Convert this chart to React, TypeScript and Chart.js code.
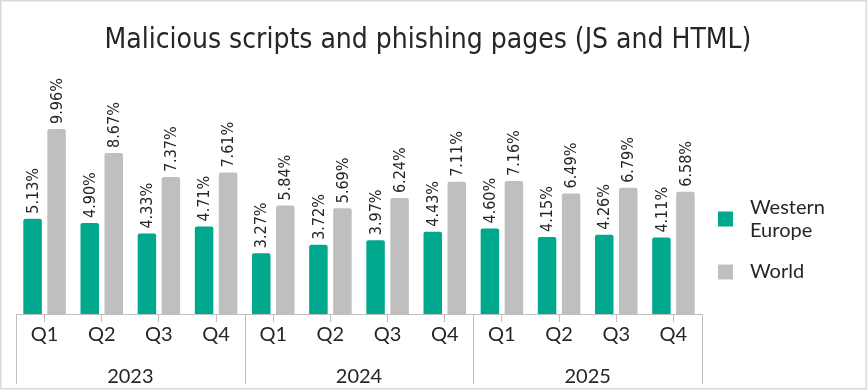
import React, { useEffect, useRef } from "react";
import { Chart, registerables } from "chart.js";

Chart.register(...registerables);

const quarters = ["Q1", "Q2", "Q3", "Q4", "Q1", "Q2", "Q3", "Q4", "Q1", "Q2", "Q3", "Q4"];
const years = ["2023", "2024", "2025"];
const westernEurope = [5.13, 4.9, 4.33, 4.71, 3.27, 3.72, 3.97, 4.43, 4.6, 4.15, 4.26, 4.11];
const world = [9.96, 8.67, 7.37, 7.61, 5.84, 5.69, 6.24, 7.11, 7.16, 6.49, 6.79, 6.58];
const seriesNames = [["Western", "Europe"], ["World"]];
const colors = ["#00A88E", "#BFBFBF"];
const titleText = "Malicious scripts and phishing pages (JS and HTML)";

const NARROW = "'Liberation Sans Narrow', 'DejaVu Sans Condensed', 'Noto Sans', sans-serif";
const GEO = "Lato, 'Noto Sans', sans-serif";
const TEXT = "#262626";
const AXIS = "#BFBFBF";

const decorPlugin = {
  id: "decor",
  beforeDraw(chart: any) {
    const { ctx, width, height } = chart;
    ctx.save();
    ctx.fillStyle = "#ffffff";
    ctx.fillRect(0, 0, width, height);
    ctx.strokeStyle = "#D9D9D9";
    ctx.lineWidth = 1.5;
    ctx.strokeRect(0.75, 0.75, width - 2.5, height - 2);
    ctx.fillStyle = TEXT;
    ctx.font = `28px ${NARROW}`;
    ctx.textAlign = "center";
    ctx.textBaseline = "alphabetic";
    ctx.fillText(titleText, 428, 48);
    ctx.restore();
  },
  afterDatasetsDraw(chart: any) {
    const { ctx } = chart;
    ctx.save();
    ctx.fillStyle = TEXT;
    ctx.font = `16px ${NARROW}`;
    ctx.textAlign = "left";
    ctx.textBaseline = "middle";
    chart.data.datasets.forEach((ds: any, di: number) => {
      const meta = chart.getDatasetMeta(di);
      meta.data.forEach((bar: any, i: number) => {
        const v = ds.data[i] as number;
        ctx.save();
        ctx.translate(bar.x, bar.y - 5);
        ctx.rotate(-Math.PI / 2);
        ctx.fillText(v.toFixed(2) + "%", 0, 1);
        ctx.restore();
      });
    });
    ctx.restore();
  },
  afterDraw(chart: any) {
    const { ctx, chartArea } = chart;
    const xs = chart.scales.x;
    const bottom = chartArea.bottom;
    ctx.save();
    const seps = [chartArea.left];
    for (let g = 1; g < years.length; g++) {
      const a = xs.getPixelForValue(g * 4 - 1);
      const b = xs.getPixelForValue(g * 4);
      seps.push((a + b) / 2);
    }
    seps.push(chartArea.right);
    ctx.strokeStyle = AXIS;
    ctx.lineWidth = 1;
    seps.forEach((x) => {
      const px = Math.round(x) + 0.5;
      ctx.beginPath();
      ctx.moveTo(px, bottom);
      ctx.lineTo(px, bottom + 70);
      ctx.stroke();
    });
    ctx.fillStyle = TEXT;
    ctx.font = `20px ${GEO}`;
    ctx.textAlign = "center";
    ctx.textBaseline = "middle";
    years.forEach((y, g) => {
      ctx.fillText(y, (seps[g] + seps[g + 1]) / 2, bottom + 63);
    });
    const lx = chartArea.right + 16;
    ctx.textAlign = "left";
    ctx.font = `20px ${GEO}`;
    const rows = [
      { y: 219, lines: seriesNames[0] },
      { y: 272, lines: seriesNames[1] },
    ];
    rows.forEach((r, i) => {
      ctx.fillStyle = colors[i];
      ctx.fillRect(lx, r.y - 7.5, 15, 15);
      ctx.fillStyle = TEXT;
      const n = r.lines.length;
      r.lines.forEach((t, k) => {
        ctx.fillText(t, lx + 32, r.y + (k - (n - 1) / 2) * 23);
      });
    });
    ctx.restore();
  },
};

export default function App() {
  const ref = useRef<HTMLCanvasElement>(null);
  useEffect(() => {
    document.body.style.margin = "0";
    const chart = new Chart(ref.current!, {
      type: "bar",
      data: {
        labels: quarters,
        datasets: [
          {
            label: "Western Europe",
            data: westernEurope,
            backgroundColor: colors[0],
            borderRadius: 2,
            borderSkipped: "bottom",
          },
          {
            label: "World",
            data: world,
            backgroundColor: colors[1],
            borderRadius: 2,
            borderSkipped: "bottom",
          },
        ],
      },
      options: {
        responsive: false,
        animation: false,
        layout: { padding: { left: 16, right: 166, top: 91, bottom: 0 } },
        datasets: { bar: { categoryPercentage: 0.84, barPercentage: 0.77 } },
        plugins: { legend: { display: false }, title: { display: false }, tooltip: { enabled: false } },
        scales: {
          x: {
            grid: { offset: false, drawOnChartArea: false, drawTicks: true, tickLength: 8, color: AXIS },
            border: { display: true, color: AXIS },
            ticks: { color: TEXT, font: { family: GEO, size: 20 }, padding: 1, maxRotation: 0 },
            afterFit: (s: any) => {
              s.height = 76;
            },
          },
          y: { display: false, min: 0, max: 12 },
        },
      },
      plugins: [decorPlugin],
    });
    return () => chart.destroy();
  }, []);
  return <canvas ref={ref} width={868} height={390} style={{ display: "block" }} />;
}
